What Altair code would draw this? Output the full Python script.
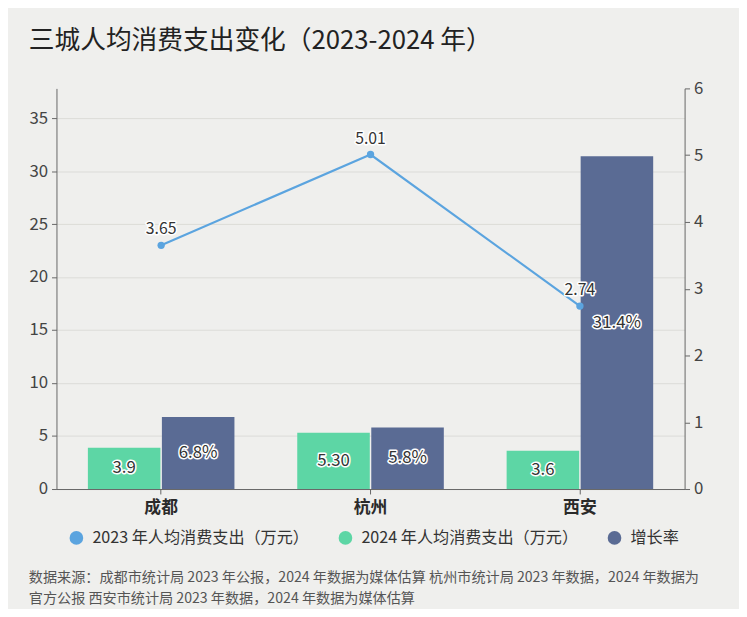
import altair as alt
import pandas as pd

cities = ["成都", "杭州", "西安"]
v2023 = [3.65, 5.01, 2.74]
v2024 = [3.9, 5.30, 3.6]
growth = [6.8, 5.8, 31.4]
labels2023 = ["3.65", "5.01", "2.74"]
labels2024 = ["3.9", "5.30", "3.6"]
labelsGrowth = ["6.8%", "5.8%", "31.4%"]

s2023 = "2023 年人均消费支出（万元）"
s2024 = "2024 年人均消费支出（万元）"
sRate = "增长率"

footnote = [
    "数据来源：成都市统计局 2023 年公报，2024 年数据为媒体估算 杭州市统计局 2023 年数据，2024 年数据为",
    "官方公报 西安市统计局 2023 年数据，2024 年数据为媒体估算",
]

FONT = "Noto Sans CJK SC"
BLUE = "#5ba4df"
GREEN = "#5dd6a5"
DARK = "#5a6b94"

bar_df = pd.DataFrame({
    "city": cities + cities,
    "series": [s2024] * 3 + [sRate] * 3,
    "value": v2024 + growth,
    "label": labels2024 + labelsGrowth,
})
bar_df["mid"] = bar_df["value"] / 2

line_df = pd.DataFrame({"city": cities, "value": v2023, "label": labels2023})
foot_df = pd.DataFrame({"note": [0]})

x_axis = alt.Axis(title=None, labelAngle=0, labelFontSize=17, labelFontWeight="bold",
                  labelColor="#2a2a2a", labelPadding=6, tickSize=5, tickColor="#666",
                  domainColor="#666", labelFont=FONT)
x_scale = alt.Scale(paddingInner=0.3, paddingOuter=0.15)


def xenc():
    return alt.X("city:N", sort=cities, scale=x_scale, axis=x_axis)


xoff = alt.XOffset("series:N", sort=[s2024, sRate],
                   scale=alt.Scale(domain=[s2024, sRate], paddingInner=0.02))
left_scale = alt.Scale(domain=[0, 37.8], nice=False)
left_axis = alt.Axis(title=None, values=[0, 5, 10, 15, 20, 25, 30, 35], grid=True,
                     gridColor="#dcdcd8", tickSize=5, tickColor="#666",
                     domainColor="#666", labelFontSize=17, labelColor="#444",
                     labelPadding=4, labelFont=FONT, orient="left")
right_scale = alt.Scale(domain=[0, 6], nice=False)
right_axis = alt.Axis(title=None, orient="right", values=[0, 1, 2, 3, 4, 5, 6], grid=False,
                      tickSize=5, tickColor="#666", domainColor="#666", labelFontSize=17,
                      labelColor="#444", labelPadding=4, labelFont=FONT)

bars = alt.Chart(bar_df).mark_bar().encode(
    x=xenc(),
    xOffset=xoff,
    y=alt.Y("value:Q", scale=left_scale, axis=left_axis),
    color=alt.Color("series:N",
                    scale=alt.Scale(domain=[s2023, s2024, sRate], range=[BLUE, GREEN, DARK]),
                    legend=alt.Legend(title=None, orient="none", legendX=12, legendY=446,
                                      direction="horizontal", columns=3, symbolType="circle",
                                      symbolSize=190, symbolStrokeWidth=0, labelFontSize=16.3,
                                      labelColor="#333", labelFont=FONT, columnPadding=28,
                                      labelOffset=8, padding=0, labelLimit=0)),
)

bar_halo = alt.Chart(bar_df).mark_text(
    fontSize=17, font=FONT, stroke="white", strokeWidth=3, strokeJoin="round", fill="white"
).encode(
    x=xenc(), xOffset=xoff,
    y=alt.Y("mid:Q", scale=left_scale, axis=left_axis), text="label:N",
)
bar_text = alt.Chart(bar_df).mark_text(fontSize=17, font=FONT, fill="#333").encode(
    x=xenc(), xOffset=xoff,
    y=alt.Y("mid:Q", scale=left_scale, axis=left_axis), text="label:N",
)

line = alt.Chart(line_df).mark_line(color=BLUE, strokeWidth=2.2).encode(
    x=xenc(),
    y=alt.Y("value:Q", scale=right_scale, axis=right_axis),
)
points = alt.Chart(line_df).mark_point(filled=True, size=55, color=BLUE, opacity=1).encode(
    x=xenc(), y=alt.Y("value:Q", scale=right_scale, axis=right_axis),
)
line_halo = alt.Chart(line_df).mark_text(
    fontSize=16, font=FONT, dy=-16, stroke="white", strokeWidth=3, strokeJoin="round", fill="white"
).encode(
    x=xenc(), y=alt.Y("value:Q", scale=right_scale, axis=right_axis),
    text="label:N",
)
line_text = alt.Chart(line_df).mark_text(fontSize=16, font=FONT, dy=-16, fill="#333").encode(
    x=xenc(), y=alt.Y("value:Q", scale=right_scale, axis=right_axis),
    text="label:N",
)

foot = alt.Chart(foot_df).mark_text(
    text=footnote, align="left", baseline="top", fontSize=14.3, font=FONT,
    fontWeight="normal", fill="#555", lineHeight=21,
).encode(x=alt.value(-28), y=alt.value(488))

left_layer = alt.layer(bars, bar_halo, bar_text, foot)
right_layer = alt.layer(line, points, line_halo, line_text)

chart = alt.layer(left_layer, right_layer).resolve_scale(y="independent").properties(
    width=635,
    height=405,
    autosize=alt.AutoSizeParams(type="none"),
    padding={"left": 49, "top": 78, "right": 55, "bottom": 118},
    background="#efefed",
    title=alt.TitleParams(text="三城人均消费支出变化（2023-2024 年）", anchor="start",
                          frame="group", dx=-28, offset=26, fontSize=26, font=FONT,
                          fontWeight="normal", color="#222"),
).configure_view(stroke=None)

chart.save("out.html", embed_options={"renderer": "svg", "actions": False})
